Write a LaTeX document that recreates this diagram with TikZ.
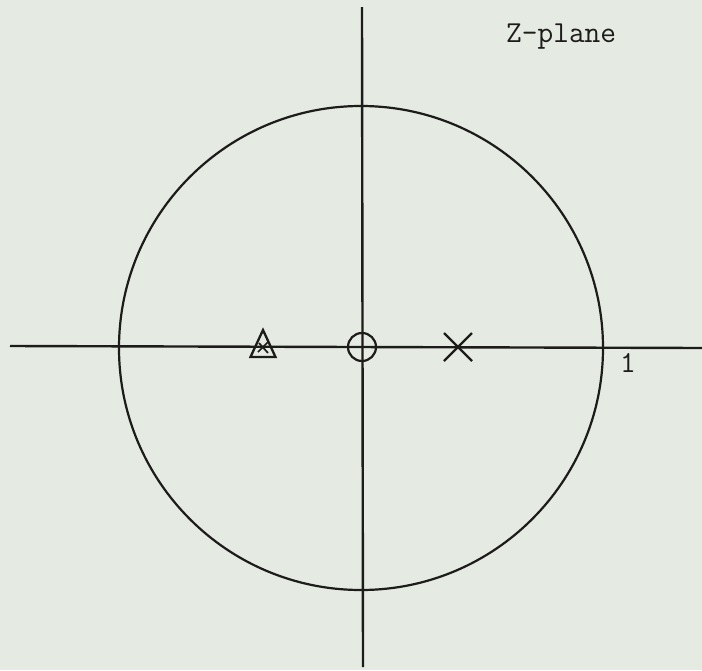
\documentclass[tikz,border=0pt]{standalone}
\usetikzlibrary{calc}
\definecolor{paper}{RGB}{229,234,226}
\definecolor{ink}{RGB}{28,28,26}
\begin{document}
\begin{tikzpicture}[x=1pt,y=-1pt,
  axis/.style={draw=ink,line width=2.4pt},
  ring/.style={draw=ink,line width=2.2pt,circle,inner sep=0pt},
  symb/.style={draw=ink,line width=2.3pt},
  lbl/.style={text=ink,font=\ttfamily\fontsize{30.5}{30.5}\selectfont,inner sep=0pt}]
\fill[paper] (0,0) rectangle (702,670);
\useasboundingbox (0,0) rectangle (702,670);
% axes
\coordinate (xl) at (10,346);
\coordinate (xr) at (702,348);
\coordinate (yt) at (362,7);
\coordinate (yb) at (363,667);
\draw[axis] (xl) -- (xr);
\draw[axis] (yt) -- (yb);
% unit circle
\node[ring,minimum size=484pt] (unit) at (361,348) {};
% zero at origin
\node[ring,minimum size=28pt] (zero) at (362,347) {};
% pole (cross)
\coordinate (p) at (458,347);
\draw[symb] ($(p)+(-14,-14)$) -- ($(p)+(14,14)$);
\draw[symb] ($(p)+(-14,14)$) -- ($(p)+(14,-14)$);
% triangle with overstruck cross
\coordinate (t) at (263,344);
\draw[symb,line join=miter] ($(t)+(0,-14)$) -- ($(t)+(-12.5,13)$) -- ($(t)+(12.5,13)$) -- cycle;
\draw[symb,line width=1.7pt] ($(t)+(-5,8)$) -- ($(t)+(5,-2)$);
\draw[symb,line width=1.7pt] ($(t)+(-4,-1)$) -- ($(t)+(5,9)$);
% labels
\node[lbl,anchor=north west] (zp) at (506,24) {Z-plane};
\node[lbl,anchor=north west] (one) at (620,353) {1};
\end{tikzpicture}
\end{document}
